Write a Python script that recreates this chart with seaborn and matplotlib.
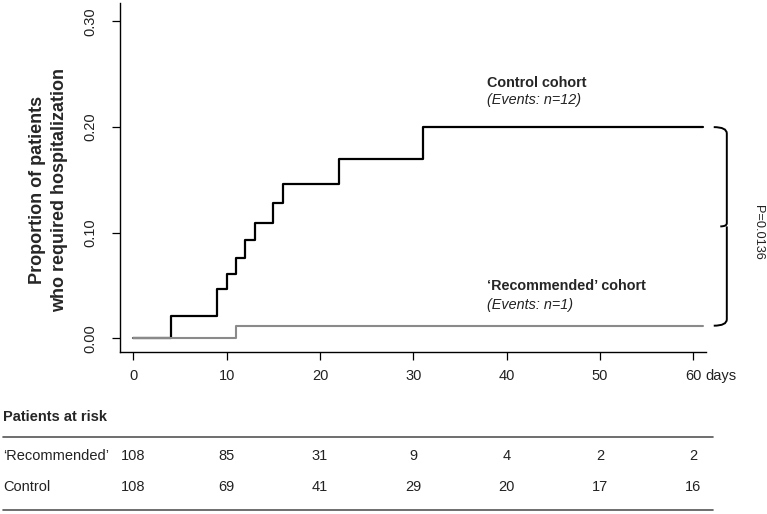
import seaborn as sns
import matplotlib.pyplot as plt
import matplotlib.patches as mpatches
from matplotlib.path import Path
from matplotlib.lines import Line2D
import matplotlib.transforms as mtransforms
import pandas as pd

# step data (day, cumulative proportion)
control_days = [0, 4, 9, 10, 11, 12, 13, 15, 16, 22, 31, 61]
control_prop = [0, 0.021, 0.047, 0.061, 0.076, 0.093, 0.109, 0.128, 0.146, 0.170, 0.200, 0.200]
recommended_days = [0, 11, 61]
recommended_prop = [0, 0.012, 0.012]

# patients at risk table
risk_days = [0, 10, 20, 30, 40, 50, 60]
risk_recommended = [108, 85, 31, 9, 4, 2, 2]
risk_control = [108, 69, 41, 29, 20, 17, 16]

x_ticks = [0, 10, 20, 30, 40, 50, 60]
x_labels = ['0', '10', '20', '30', '40', '50', '60']
y_ticks = [0.0, 0.1, 0.2, 0.3]
y_labels = ['0.00', '0.10', '0.20', '0.30']

sns.set_style('white')
plt.rcParams['font.family'] = ['Liberation Sans', 'DejaVu Sans']

W, H = 767, 514
fig = plt.figure(figsize=(W / 100, H / 100), dpi=100)
# axes box in pixels: x 120..706, y 3..352 (from top)
ax = fig.add_axes([120 / W, 1 - 352 / H, (706 - 120) / W, (352 - 3) / H])

ctrl = pd.DataFrame({'day': control_days, 'prop': control_prop})
reco = pd.DataFrame({'day': recommended_days, 'prop': recommended_prop})
sns.lineplot(data=ctrl, x='day', y='prop', ax=ax, color='black', lw=1.6,
             drawstyle='steps-post', estimator=None)
sns.lineplot(data=reco, x='day', y='prop', ax=ax, color='#8a8a8a', lw=1.5,
             drawstyle='steps-post', estimator=None)

ax.set_xlim(-1.43, 61.37)
ax.set_ylim(-0.0129, 0.3175)
sns.despine(ax=ax)
for s in ['left', 'bottom']:
    ax.spines[s].set_color('black')
    ax.spines[s].set_linewidth(1.0)
ax.set_xticks(x_ticks)
ax.set_xticklabels(x_labels)
ax.set_yticks(y_ticks)
ax.set_yticklabels(y_labels, rotation=90, va='center')
ax.tick_params(axis='both', direction='out', length=6, width=0.9, color='black',
               labelsize=10.5, labelcolor='#222222', bottom=True, left=True)
ax.tick_params(axis='x', pad=6)
ax.tick_params(axis='y', pad=10)
ax.set_xlabel('')
ax.set_ylabel('')

trans = mtransforms.blended_transform_factory(ax.transData, fig.transFigure)
# "days" unit after the 60 tick label
fig.text(61.3, 1 - 376 / H, 'days', transform=trans, fontsize=10.5, color='#222222',
         ha='left', va='center')

fig.text(38 / W, 1 - 190 / H, 'Proportion of patients', rotation=90, ha='center', va='center',
         fontsize=13, fontweight='bold')
fig.text(60 / W, 1 - 190 / H, 'who required hospitalization', rotation=90, ha='center', va='center',
         fontsize=13, fontweight='bold')

# cohort annotations
ax.text(37.9, 0.2413, 'Control cohort', fontsize=10.4, fontweight='bold', ha='left', va='center')
ax.text(37.9, 0.2253, '(Events: n=12)', fontsize=10.4, style='italic', ha='left', va='center', color='#222222')
ax.text(37.9, 0.0494, '\u2018Recommended\u2019 cohort', fontsize=10.4, fontweight='bold', ha='left', va='center')
ax.text(37.9, 0.0315, '(Events: n=1)', fontsize=10.4, style='italic', ha='left', va='center', color='#222222')

# brace connecting the two curves
top, bot = control_prop[-1], recommended_prop[-1]
mid = (top + bot) / 2
verts = [(62.2, top), (63.6, top), (63.6, top - 0.006),
         (63.6, mid + 0.003),
         (63.6, mid), (62.9, mid),
         (63.6, mid), (63.6, mid - 0.003),
         (63.6, bot + 0.006),
         (63.6, bot), (62.2, bot)]
codes = [Path.MOVETO, Path.CURVE3, Path.CURVE3,
         Path.LINETO,
         Path.CURVE3, Path.CURVE3,
         Path.MOVETO, Path.CURVE3,
         Path.LINETO,
         Path.CURVE3, Path.CURVE3]
ax.add_patch(mpatches.PathPatch(Path(verts, codes), fill=False, lw=1.4, color='black', clip_on=False))
ax.text(66.95, 0.1008, 'P=0.0136', rotation=-90, ha='center', va='center', fontsize=9.2,
        color='#222222', clip_on=False)

# patients at risk table
fig.text(3 / W, 1 - 417 / H, 'Patients at risk', fontsize=10.5, fontweight='bold', ha='left', va='center')
for yy in [437, 510]:
    fig.add_artist(Line2D([3 / W, 713 / W], [1 - yy / H, 1 - yy / H], color='#555555', lw=1.2))
fig.text(3 / W, 1 - 456 / H, '\u2018Recommended\u2019', fontsize=10.5, ha='left', va='center', color='#222222')
fig.text(3 / W, 1 - 487 / H, 'Control', fontsize=10.5, ha='left', va='center', color='#222222')
for d, r, c in zip(risk_days, risk_recommended, risk_control):
    fig.text(d, 1 - 456 / H, str(r), transform=trans, fontsize=10.5, ha='center', va='center', color='#222222')
    fig.text(d, 1 - 487 / H, str(c), transform=trans, fontsize=10.5, ha='center', va='center', color='#222222')

fig.savefig('out.png', dpi=100)
